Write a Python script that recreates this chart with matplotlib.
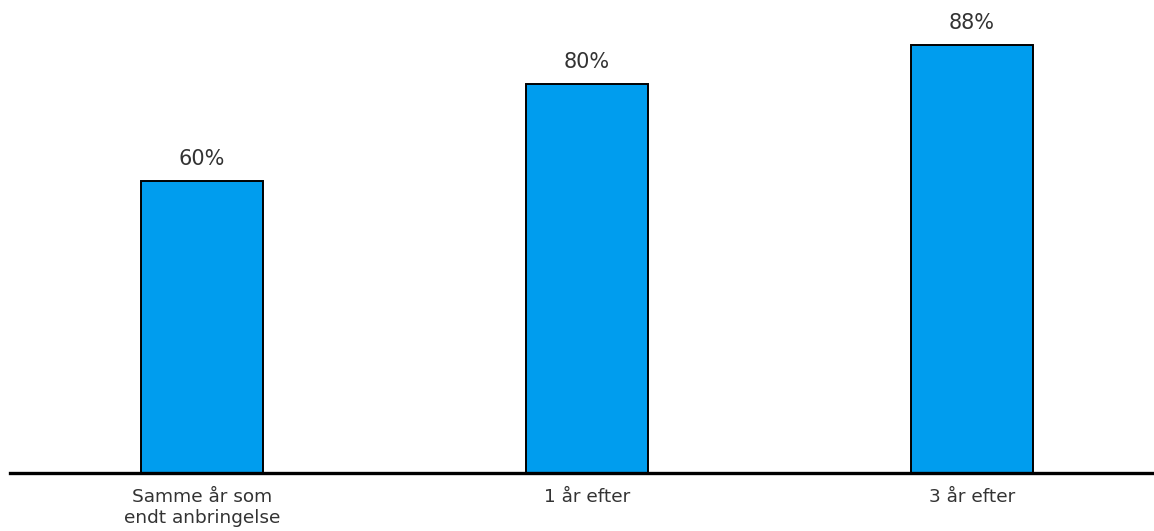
import matplotlib
matplotlib.use("Agg")
import matplotlib.pyplot as plt

# Data
kategorier = ["Samme år som\nendt anbringelse", "1 år efter", "3 år efter"]
andele = [60, 80, 88]
etiketter = ["60%", "80%", "88%"]

fig = plt.figure(figsize=(11.54, 5.31), dpi=100)
ax = fig.add_axes([10 / 1154, 58 / 531, 1 - 10 / 1154, 1 - 58 / 531])

pos = list(range(len(kategorier)))
bars = ax.bar(pos, andele, width=0.317, color="#009dee",
              edgecolor="black", linewidth=1.4, zorder=2)

for b, txt in zip(bars, etiketter):
    ax.annotate(txt, (b.get_x() + b.get_width() / 2, b.get_height()),
                xytext=(0, 9), textcoords="offset points",
                ha="center", va="bottom", fontsize=15, color="#333333")

ax.set_xlim(-0.4987, 2.4727)
ax.set_ylim(0, 97.3)
ax.set_xticks(pos)
ax.set_xticklabels(kategorier, fontsize=13.3, color="#333333", linespacing=1.2)
ax.tick_params(axis="x", length=0, pad=11)
ax.set_yticks([])

for s in ["top", "left", "right"]:
    ax.spines[s].set_visible(False)
ax.spines["bottom"].set_linewidth(2.4)
ax.spines["bottom"].set_zorder(3)

fig.savefig("out.png", dpi=100)
plt.close()
